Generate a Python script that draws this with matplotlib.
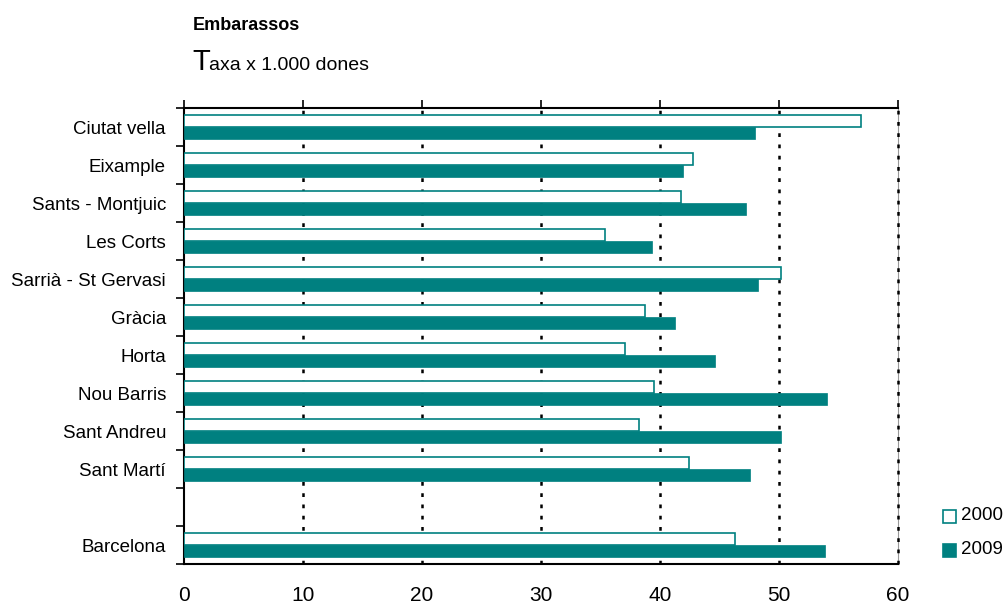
import matplotlib
matplotlib.use("Agg")
import matplotlib.pyplot as plt
import numpy as np
from matplotlib import font_manager

# narrow Arial-like face if we have it
names = set(f.name for f in font_manager.fontManager.ttflist)
if "Liberation Sans Narrow" in names:
    plt.rcParams['font.family'] = ['Liberation Sans Narrow', 'DejaVu Sans']
else:
    plt.rcParams['font.family'] = ['Liberation Sans', 'DejaVu Sans']

districts = ['Ciutat vella', 'Eixample', 'Sants - Montjuic', 'Les Corts',
             'Sarrià - St Gervasi', 'Gràcia', 'Horta', 'Nou Barris',
             'Sant Andreu', 'Sant Martí', '', 'Barcelona']
taxa_2000 = [56.9, 42.8, 41.8, 35.4, 50.2, 38.7, 37.1, 39.5, 38.2, 42.4, None, 46.3]
taxa_2009 = [48.0, 41.9, 47.2, 39.3, 48.2, 41.3, 44.6, 54.0, 50.2, 47.6, None, 53.9]
xticks = [0, 10, 20, 30, 40, 50, 60]

teal = '#008080'

fig = plt.figure(figsize=(10.05, 6.08), dpi=100)
ax = fig.add_axes([184/1005, 1-564/608, 714/1005, 456/608])

pos = np.arange(len(districts))
h = 0.31
for i, (a, b) in enumerate(zip(taxa_2000, taxa_2009)):
    if a is None:
        continue
    ax.barh(pos[i] - h/2, a, height=h, color='white', edgecolor=teal, linewidth=1.2, zorder=3)
    ax.barh(pos[i] + h/2, b, height=h, color=teal, edgecolor=teal, linewidth=0.5, zorder=3)

ax.set_xlim(0, 60)
ax.set_ylim(len(districts) - 0.5, -0.5)

ax.spines['right'].set_color('#999999')
ax.spines['right'].set_linewidth(0.8)
for x in xticks[1:]:
    # the last one sits on the right edge, so let it draw unclipped
    ax.axvline(x, color='black', linestyle=(0, (1.5, 3)), linewidth=1.8,
               zorder=1 if x < 60 else 4, clip_on=(x < 60))

ax.set_xticks(xticks)
ax.set_xticklabels([str(x) for x in xticks], fontsize=15)
ax.tick_params(axis='x', top=True, bottom=False, labeltop=False, labelbottom=True,
               direction='out', length=6, width=1.2, pad=10)

ax.set_yticks(pos)
ax.set_yticklabels(districts, fontsize=13.5)
ax.set_yticks(np.arange(-0.5, len(districts), 1), minor=True)
ax.tick_params(axis='y', which='major', length=0, pad=13)
ax.tick_params(axis='y', which='minor', length=6, width=1.2, direction='out')

for s in ['left', 'top', 'bottom']:
    ax.spines[s].set_linewidth(1.5)

fig.text(193/1005, 1-26/608, 'Embarassos', fontsize=13, fontweight='bold', va='center', ha='left')
fig.text(192/1005, 1-70/608, 'T', fontsize=21, va='baseline', ha='left')
fig.text(209/1005, 1-70/608, 'axa x 1.000 dones', fontsize=14, va='baseline', ha='left')

# legend
fig.patches.append(plt.Rectangle((943/1005, 1-523/608), 13/1005, 13/608, transform=fig.transFigure,
                                 facecolor='white', edgecolor=teal, linewidth=1.2))
fig.patches.append(plt.Rectangle((943/1005, 1-557/608), 13/1005, 13/608, transform=fig.transFigure,
                                 facecolor=teal, edgecolor=teal, linewidth=1.2))
fig.text(961/1005, 1-516/608, '2000', fontsize=13.5, va='center', ha='left')
fig.text(961/1005, 1-550/608, '2009', fontsize=13.5, va='center', ha='left')

fig.savefig('out.png', dpi=100)
